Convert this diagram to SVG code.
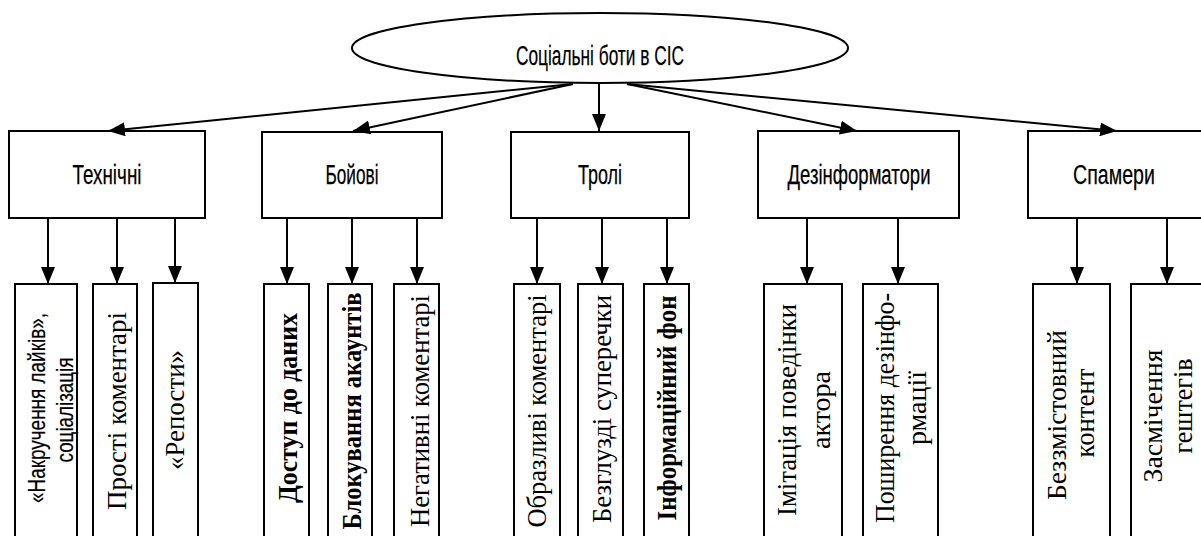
<svg xmlns="http://www.w3.org/2000/svg" width="1201" height="536" viewBox="0 0 1201 536">
<defs>
<marker id="ah" markerUnits="userSpaceOnUse" markerWidth="18" markerHeight="14" refX="17" refY="7" orient="auto" viewBox="0 0 18 14">
<path d="M0,0 L17,7 L0,14 z" fill="#000"/>
</marker>
<style>
.box{fill:#fff;stroke:#000;stroke-width:2}
.lbl{font-family:"Liberation Sans Narrow","Liberation Sans",Arial,sans-serif;font-size:27px;fill:#000;stroke:#000;stroke-width:0.25;text-anchor:middle}
.sl{font-family:"Liberation Sans Narrow","Liberation Sans",Arial,sans-serif;font-size:23px;fill:#000;stroke:#000;stroke-width:0.2;text-anchor:middle}
.vt{font-family:"Liberation Serif","Times New Roman",serif;font-size:28px;fill:#000;text-anchor:middle}
.b{font-weight:bold}
.con line{stroke:#000;stroke-width:2;marker-end:url(#ah)}
</style>
</defs>
<rect width="1201" height="536" fill="#fff"/>

<g id="root">
<ellipse cx="600" cy="48" rx="248" ry="35" class="box"/>
<text class="lbl" x="600" y="65" textLength="168" lengthAdjust="spacingAndGlyphs">Соціальні боти в СІС</text>
</g>

<g id="tech"><rect class="box" x="9" y="131" width="196" height="87"/><text class="lbl" x="107" y="184" textLength="69" lengthAdjust="spacingAndGlyphs">Технічні</text></g>
<g id="combat"><rect class="box" x="262" y="132" width="180" height="86"/><text class="lbl" x="352" y="184" textLength="53" lengthAdjust="spacingAndGlyphs">Бойові</text></g>
<g id="trolls"><rect class="box" x="511" y="132" width="178" height="86"/><text class="lbl" x="600" y="184" textLength="44" lengthAdjust="spacingAndGlyphs">Тролі</text></g>
<g id="disinfo"><rect class="box" x="758" y="131" width="201" height="87"/><text class="lbl" x="859" y="184" textLength="143" lengthAdjust="spacingAndGlyphs">Дезінформатори</text></g>
<g id="spam"><rect class="box" x="1028" y="131" width="190" height="87"/><text class="lbl" x="1114" y="184" textLength="82" lengthAdjust="spacingAndGlyphs">Спамери</text></g>

<g id="c1"><rect class="box" x="15" y="284" width="62" height="270"/>
<text class="sl" transform="translate(45,408) rotate(-90)" textLength="190" lengthAdjust="spacingAndGlyphs">«Накручення лайків»,</text>
<text class="sl" transform="translate(73,410) rotate(-90)" textLength="105" lengthAdjust="spacingAndGlyphs">соціалізація</text></g>
<g id="c2"><rect class="box" x="93" y="284" width="44" height="270"/><text class="vt" transform="translate(126,411) rotate(-90)" textLength="198" lengthAdjust="spacingAndGlyphs">Прості коментарі</text></g>
<g id="c3"><rect class="box" x="153" y="283" width="45" height="270"/><text class="vt" transform="translate(184,410) rotate(-90)" textLength="120" lengthAdjust="spacingAndGlyphs">«Репости»</text></g>
<g id="c4"><rect class="box" x="264" y="284" width="45" height="270"/><text class="vt b" transform="translate(297,408) rotate(-90)" textLength="190" lengthAdjust="spacingAndGlyphs">Доступ до даних</text></g>
<g id="c5"><rect class="box" x="328" y="284" width="44" height="270"/><text class="vt b" transform="translate(361,411) rotate(-90)" textLength="237" lengthAdjust="spacingAndGlyphs">Блокування акаунтів</text></g>
<g id="c6"><rect class="box" x="394" y="284" width="45" height="270"/><text class="vt" transform="translate(429,411) rotate(-90)" textLength="232" lengthAdjust="spacingAndGlyphs">Негативні коментарі</text></g>
<g id="c7"><rect class="box" x="514" y="284" width="46" height="270"/><text class="vt" transform="translate(546,411) rotate(-90)" textLength="233" lengthAdjust="spacingAndGlyphs">Образливі коментарі</text></g>
<g id="c8"><rect class="box" x="578" y="284" width="45" height="270"/><text class="vt" transform="translate(611,409) rotate(-90)" textLength="228" lengthAdjust="spacingAndGlyphs">Безглузді суперечки</text></g>
<g id="c9"><rect class="box" x="644" y="284" width="45" height="270"/><text class="vt b" transform="translate(676,408) rotate(-90)" textLength="225" lengthAdjust="spacingAndGlyphs">Інформаційний фон</text></g>
<g id="c10"><rect class="box" x="764" y="284" width="78" height="270"/>
<text class="vt" transform="translate(796,410) rotate(-90)" textLength="212" lengthAdjust="spacingAndGlyphs">Імітація поведінки</text>
<text class="vt" transform="translate(830,410) rotate(-90)">актора</text></g>
<g id="c11"><rect class="box" x="863" y="284" width="75" height="270"/>
<text class="vt" transform="translate(894,408) rotate(-90)" textLength="230" lengthAdjust="spacingAndGlyphs">Поширення дезінфо-</text>
<text class="vt" transform="translate(926,408) rotate(-90)">рмації</text></g>
<g id="c12"><rect class="box" x="1033" y="284" width="77" height="270"/>
<text class="vt" transform="translate(1066,415) rotate(-90)" textLength="170" lengthAdjust="spacingAndGlyphs">Беззмістовний</text>
<text class="vt" transform="translate(1094,413) rotate(-90)" textLength="89" lengthAdjust="spacingAndGlyphs">контент</text></g>
<g id="c13"><rect class="box" x="1131" y="284" width="90" height="270"/>
<text class="vt" transform="translate(1162,416) rotate(-90)" textLength="133" lengthAdjust="spacingAndGlyphs">Засмічення</text>
<text class="vt" transform="translate(1192,406) rotate(-90)" textLength="95" lengthAdjust="spacingAndGlyphs">гештегів</text></g>

<g id="connectors" class="con">
<line x1="573" y1="84" x2="108" y2="131"/>
<line x1="573" y1="84" x2="353" y2="131"/>
<line x1="599" y1="83" x2="599" y2="131"/>
<line x1="627" y1="84" x2="857" y2="131"/>
<line x1="627" y1="84" x2="1117" y2="131"/>
<line x1="48" y1="218" x2="48" y2="284"/>
<line x1="117" y1="218" x2="117" y2="284"/>
<line x1="175" y1="218" x2="175" y2="283"/>
<line x1="287" y1="218" x2="287" y2="284"/>
<line x1="352" y1="218" x2="352" y2="284"/>
<line x1="417" y1="218" x2="417" y2="284"/>
<line x1="537" y1="218" x2="537" y2="284"/>
<line x1="602" y1="218" x2="602" y2="284"/>
<line x1="667" y1="218" x2="667" y2="284"/>
<line x1="807" y1="218" x2="807" y2="284"/>
<line x1="898" y1="218" x2="898" y2="284"/>
<line x1="1077" y1="218" x2="1077" y2="284"/>
<line x1="1167" y1="218" x2="1167" y2="284"/>
</g>
</svg>
